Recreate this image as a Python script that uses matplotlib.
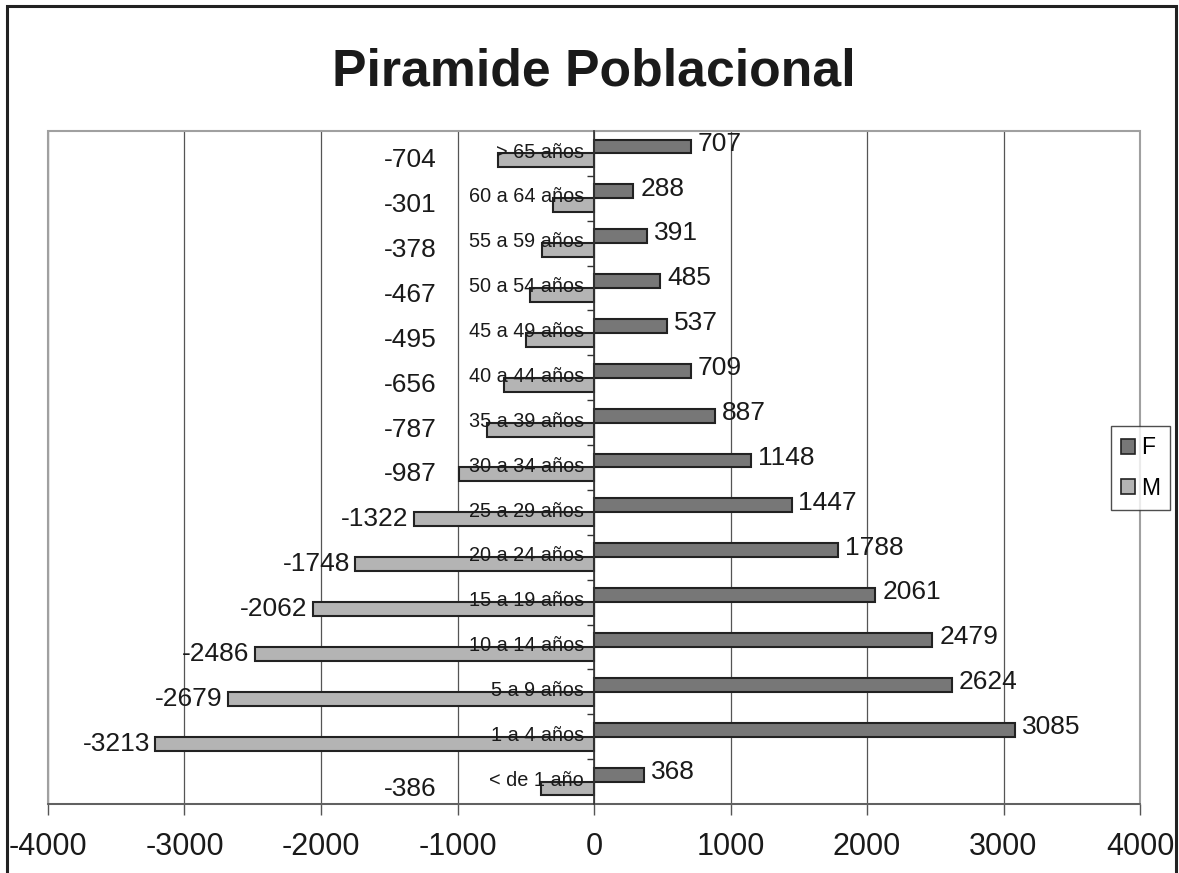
import matplotlib
matplotlib.use("Agg")
from matplotlib import pyplot as plt
from matplotlib.patches import Rectangle, Patch

plt.rcParams['font.family'] = ['Liberation Sans', 'DejaVu Sans']

# categorias de baixo para cima
grupos = ['< de 1 año', '1 a 4 años', '5 a 9 años', '10 a 14 años', '15 a 19 años',
          '20 a 24 años', '25 a 29 años', '30 a 34 años', '35 a 39 años', '40 a 44 años',
          '45 a 49 años', '50 a 54 años', '55 a 59 años', '60 a 64 años', '> 65 años']
femenino = [368, 3085, 2624, 2479, 2061, 1788, 1447, 1148, 887, 709, 537, 485, 391, 288, 707]
masculino = [-386, -3213, -2679, -2486, -2062, -1748, -1322, -987, -787, -656, -495, -467, -378, -301, -704]
ticks_x = [-4000, -3000, -2000, -1000, 0, 1000, 2000, 3000, 4000]

cor_f = '#777777'
cor_m = '#b4b4b4'
cor_borda = '#222222'

fig = plt.figure(figsize=(11.79, 8.73), dpi=100)
ax = fig.add_axes([48/1179, 1-804/873, (1140-48)/1179, (804-131)/873])

pos = list(range(len(grupos)))
alt = 0.31
ax.barh([p + alt/2 for p in pos], femenino, height=alt, color=cor_f, edgecolor=cor_borda, linewidth=1.5, zorder=3)
ax.barh([p - alt/2 for p in pos], masculino, height=alt, color=cor_m, edgecolor=cor_borda, linewidth=1.5, zorder=3)

ax.set_xlim(-4000, 4000)
ax.set_ylim(-0.5, len(grupos) - 0.5)

# rotulos dos valores
for p, v in zip(pos, femenino):
    ax.annotate(str(v), (v, p + alt/2), xytext=(5, 2), textcoords='offset points',
                ha='left', va='center', fontsize=19, color='#1a1a1a', zorder=5)
for p, v in zip(pos, masculino):
    ax.annotate(str(v), (min(v, -1110), p - alt/2), xytext=(-4, 0), textcoords='offset points',
                ha='right', va='center', fontsize=19, color='#1a1a1a', zorder=5)

# nomes das categorias junto ao eixo zero
for p, g in zip(pos, grupos):
    ax.text(-75, p + 0.03, g, ha='right', va='center', fontsize=14.3, color='#1a1a1a', zorder=4)

# eixo y no zero
ax.spines['left'].set_position(('data', 0))
ax.spines['left'].set_color('#333333')
ax.spines['left'].set_linewidth(1.2)
ax.spines['left'].set_zorder(4)
ax.set_yticks([p + 0.5 for p in pos[:-1]])
ax.set_yticklabels([])
ax.tick_params(axis='y', direction='out', length=5, width=1, color='#333333')

ax.spines['right'].set_visible(False)
ax.spines['top'].set_visible(False)
ax.spines['bottom'].set_color('#555555')
ax.spines['bottom'].set_linewidth(1.2)

ax.set_xticks(ticks_x)
ax.set_xticklabels([str(t) for t in ticks_x])
ax.tick_params(axis='x', direction='out', length=8, width=1, color='#555555',
               labelsize=22, labelcolor='#1a1a1a', pad=12)

ax.grid(True, axis='x', color='#555555', linewidth=0.9, zorder=0)
ax.set_axisbelow(True)

# moldura cinza da area do grafico
ax.add_patch(Rectangle((0, 0), 1, 1, transform=ax.transAxes, fill=False,
                       edgecolor='#a0a0a0', linewidth=1.5, zorder=1, clip_on=False))

fig.text(594/1179, 1-72/873, 'Piramide Poblacional', ha='center', va='center',
         fontsize=37.3, fontweight='bold', color='#1a1a1a')

leg = fig.legend(handles=[Patch(facecolor=cor_f, edgecolor=cor_borda, linewidth=1.2, label='F'),
                          Patch(facecolor=cor_m, edgecolor=cor_borda, linewidth=1.2, label='M')],
                 loc='center', bbox_to_anchor=(1140.5/1179, 1-468/873), fontsize=16.5,
                 frameon=True, fancybox=False, handlelength=0.6, handleheight=0.6,
                 handletextpad=0.25, labelspacing=0.75, borderpad=0.45, borderaxespad=0)
leg.get_frame().set_edgecolor('#222222')
leg.get_frame().set_linewidth(1.0)

# borda da figura
fig.add_artist(Rectangle((7/1179, -0.05), (1176-7)/1179, 1.05 - 6/873, transform=fig.transFigure,
                         fill=False, edgecolor='#222222', linewidth=2.2))

plt.savefig('out.png', dpi=100)
